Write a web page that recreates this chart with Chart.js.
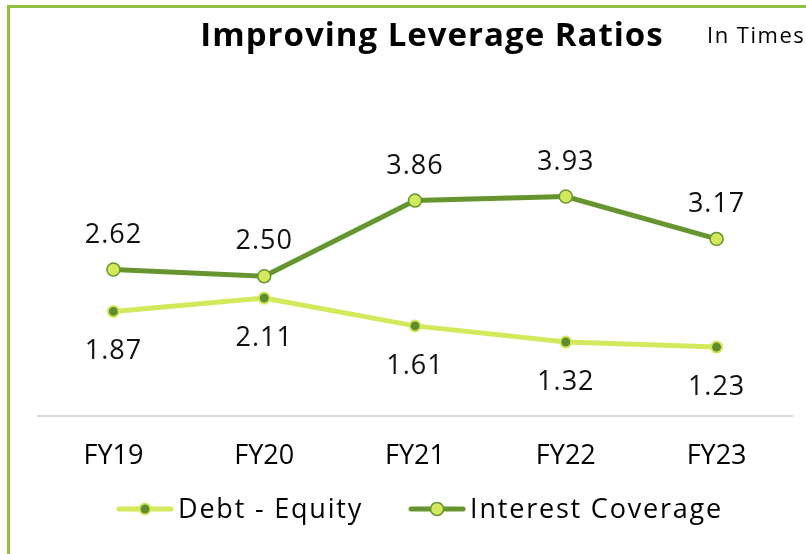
<!DOCTYPE html>
<html>
<head>
<meta charset="utf-8">
<script src="https://cdn.jsdelivr.net/npm/chart.js@4.4.0/dist/chart.umd.min.js"></script>
<style>
  html, body { margin: 0; padding: 0; background: #fff; }
  #wrap { position: relative; width: 806px; height: 554px; }
</style>
</head>
<body>
<div id="wrap"><canvas id="leverageChart" width="806" height="554"></canvas></div>
<script>
const categories = ['FY19', 'FY20', 'FY21', 'FY22', 'FY23'];
const debtEquity = [1.87, 2.11, 1.61, 1.32, 1.23];
const interestCoverage = [2.62, 2.50, 3.86, 3.93, 3.17];

const DARK = '#669530';
const LIGHT = '#d4e85c';
const FONT = '"Open Sans", Lato, sans-serif';

const frameAndTitle = {
  id: 'frameAndTitle',
  beforeDraw(chart) {
    const ctx = chart.ctx;
    ctx.save();
    ctx.strokeStyle = '#8fc040';
    ctx.lineWidth = 3;
    ctx.beginPath();
    ctx.moveTo(8.5, chart.height);
    ctx.lineTo(8.5, 6.5);
    ctx.lineTo(chart.width, 6.5);
    ctx.stroke();
    ctx.fillStyle = '#000';
    ctx.textBaseline = 'alphabetic';
    ctx.textAlign = 'center';
    ctx.letterSpacing = '1px';
    ctx.font = 'bold 33px ' + FONT;
    ctx.fillText('Improving Leverage Ratios', 432, 46);
    ctx.textAlign = 'left';
    ctx.letterSpacing = '1.5px';
    ctx.font = '22px ' + FONT;
    ctx.fillText('In Times', 707, 43);
    ctx.restore();
  }
};

const valueLabels = {
  id: 'valueLabels',
  afterDatasetsDraw(chart) {
    const ctx = chart.ctx;
    ctx.save();
    ctx.font = '27px ' + FONT;
    ctx.letterSpacing = '1px';
    ctx.fillStyle = '#111';
    ctx.textAlign = 'center';
    ctx.textBaseline = 'alphabetic';
    chart.data.datasets.forEach(function(ds, i) {
      const meta = chart.getDatasetMeta(i);
      const dy = ds.labelAbove ? -27 : 48;
      meta.data.forEach(function(pt, j) {
        ctx.fillText(ds.data[j].toFixed(2), pt.x, pt.y + dy);
      });
    });
    ctx.restore();
  }
};

// legend drawn by hand: line with a dot, then the label
const lineLegend = {
  id: 'lineLegend',
  afterDraw(chart) {
    const ctx = chart.ctx;
    const y = 509;
    let x = 117;
    ctx.save();
    ctx.font = '27px ' + FONT;
    ctx.letterSpacing = '1.8px';
    ctx.textBaseline = 'middle';
    ctx.textAlign = 'left';
    chart.data.datasets.forEach(function(ds) {
      ctx.strokeStyle = ds.borderColor;
      ctx.lineWidth = 5;
      ctx.lineCap = 'round';
      ctx.beginPath(); ctx.moveTo(x + 2, y); ctx.lineTo(x + 54, y); ctx.stroke();
      ctx.beginPath(); ctx.arc(x + 28, y, ds.pointRadius, 0, Math.PI * 2);
      ctx.fillStyle = ds.pointBackgroundColor; ctx.fill();
      ctx.lineWidth = ds.pointBorderWidth; ctx.strokeStyle = ds.pointBorderColor; ctx.stroke();
      ctx.fillStyle = '#000';
      ctx.fillText(ds.label, x + 61, y + 1);
      x += 61 + ctx.measureText(ds.label).width + 46;
    });
    ctx.restore();
  }
};

new Chart(document.getElementById('leverageChart'), {
  type: 'line',
  data: {
    labels: categories,
    datasets: [
      {
        label: 'Debt - Equity',
        data: debtEquity,
        borderColor: LIGHT,
        backgroundColor: DARK,
        pointBackgroundColor: '#5f8c2c',
        pointBorderColor: LIGHT,
        pointBorderWidth: 2,
        pointRadius: 5.5,
        borderWidth: 5,
        labelAbove: false
      },
      {
        label: 'Interest Coverage',
        data: interestCoverage,
        borderColor: DARK,
        backgroundColor: LIGHT,
        pointBackgroundColor: LIGHT,
        pointBorderColor: DARK,
        pointBorderWidth: 1.5,
        pointRadius: 6.5,
        borderWidth: 5,
        labelAbove: true
      }
    ]
  },
  options: {
    responsive: false,
    animation: false,
    layout: { padding: { top: 137, left: 38, right: 14, bottom: 56 } },
    plugins: {
      title: { display: false },
      tooltip: { enabled: false },
      legend: { display: false }
    },
    scales: {
      x: {
        offset: true,
        grid: { display: false, drawTicks: false },
        border: { display: true, color: '#d9d9d9', width: 2 },
        ticks: { color: '#000', font: { family: FONT, size: 27 }, padding: 25 }
      },
      y: {
        display: false,
        min: 0,
        max: 5
      }
    }
  },
  plugins: [frameAndTitle, valueLabels, lineLegend]
});
</script>
</body>
</html>
